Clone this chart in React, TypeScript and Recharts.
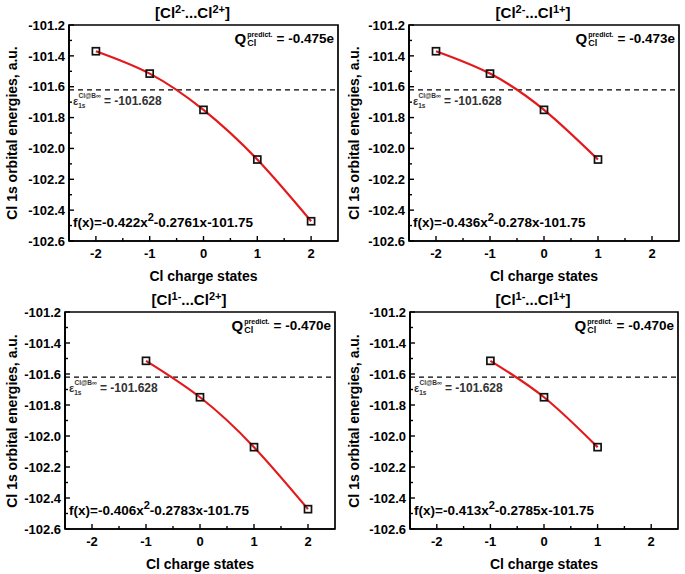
import React from 'react';
import { LineChart, Line, XAxis, YAxis, ReferenceLine, ReferenceArea } from 'recharts';

// ---------- data ----------
const chargeAll = [-2, -1, 0, 1, 2];
const energyAll = [-101.37, -101.515, -101.75, -102.072, -102.472];

const panelRanges: [number, number][] = [
  [-2, 2],
  [-2, 1],
  [-1, 2],
  [-1, 1],
];
const titleLeft = ['2-', '2-', '1-', '1-'];
const titleRight = ['2+', '1+', '2+', '1+'];
const qValues = ['-0.475', '-0.473', '-0.470', '-0.470'];
const fitA = ['-0.422', '-0.436', '-0.406', '-0.413'];
const fitB = ['-0.2761', '-0.278', '-0.2783', '-0.2785'];
const fitC = '-101.75';
const refEnergy = -101.62;
const refLabel = '-101.628';

const xTicks = [-2, -1.5, -1, -0.5, 0, 0.5, 1, 1.5, 2];
const yTicks = [
  -102.6, -102.5, -102.4, -102.3, -102.2, -102.1, -102.0, -101.9, -101.8, -101.7, -101.6, -101.5, -101.4, -101.3, -101.2,
];
const xDomain: [number, number] = [-2.5, 2.5];
const yDomain: [number, number] = [-102.6, -101.2];

// ---------- layout ----------
const FONT = '"Liberation Sans", Arial, Helvetica, sans-serif';
const layouts = [
  { left: 0, top: 0, width: 342, height: 288, box: { l: 69, t: 25, r: 338, b: 241 } },
  { left: 342, top: 0, width: 343, height: 288, box: { l: 67, t: 25, r: 337, b: 241 } },
  { left: 0, top: 288, width: 342, height: 286, box: { l: 65, t: 24, r: 335, b: 241 } },
  { left: 342, top: 288, width: 343, height: 286, box: { l: 68, t: 24, r: 336, b: 241 } },
];
const X_AXIS_H = 30;
const Y_MARGIN = 4;
const X_MARGIN = 8;

const YTick = (props: any) => {
  const { x, y, payload } = props;
  const v = payload.value;
  const major = Math.round(v * 10) % 2 === 0;
  const ax = x + Y_MARGIN;
  return (
    <g>
      <line x1={ax} x2={ax + (major ? 5 : 3)} y1={y} y2={y} stroke="#000" strokeWidth={1.4} />
      {major && (
        <text x={x} y={y} dy="0.36em" textAnchor="end" fontFamily={FONT} fontWeight="bold" fontSize={13} fill="#000">
          {v.toFixed(1)}
        </text>
      )}
    </g>
  );
};

const XTick = (props: any) => {
  const { x, y, payload } = props;
  const v = payload.value;
  const major = Number.isInteger(v);
  const ay = y - X_MARGIN;
  return (
    <g>
      <line x1={x} x2={x} y1={ay} y2={ay - (major ? 5 : 3)} stroke="#000" strokeWidth={1.4} />
      {major && (
        <text x={x} y={y} dy="0.71em" textAnchor="middle" fontFamily={FONT} fontWeight="bold" fontSize={13} fill="#000">
          {v}
        </text>
      )}
    </g>
  );
};

const SquareDot = (props: any) => {
  const { cx, cy, index } = props;
  if (cx == null || cy == null) return <g key={index} />;
  return <rect key={index} x={cx - 3.5} y={cy - 3.5} width={7} height={7} fill="none" stroke="#111" strokeWidth={1.7} />;
};

const EpsLabel = (props: any) => {
  const vb = props.viewBox || {};
  const x = (vb.x || 0) + 4;
  const y = (vb.y || 0) + 15;
  return (
    <text x={x} y={y} fontFamily={FONT} fontWeight="bold" fill="#333" fontSize={12}>
      <tspan fontSize={11}>ε</tspan>
      <tspan dy={3} fontSize={6.5}>1s</tspan>
      <tspan dx={-7} dy={-10} fontSize={6.5}>Cl@B∞</tspan>
      <tspan dy={7} fontSize={12}>{' = ' + refLabel}</tspan>
    </text>
  );
};

function Panel({ idx }: { idx: number }) {
  const L = layouts[idx];
  const { box } = L;
  const [lo, hi] = panelRanges[idx];
  const data = chargeAll
    .map((x, i) => ({ x, y: energyAll[i] }))
    .filter((d) => d.x >= lo && d.x <= hi);
  const boxCx = (box.l + box.r) / 2;
  const boxCy = (box.t + box.b) / 2;
  return (
    <div style={{ position: 'absolute', left: L.left, top: L.top, width: L.width, height: L.height, fontFamily: FONT }}>
      <LineChart
        width={L.width}
        height={L.height}
        data={data}
        margin={{ top: box.t, right: L.width - box.r, left: 0, bottom: L.height - box.b - X_AXIS_H }}
      >
        <XAxis
          type="number"
          dataKey="x"
          domain={xDomain}
          ticks={xTicks}
          interval={0}
          allowDataOverflow
          height={X_AXIS_H}
          tickSize={0}
          tickMargin={X_MARGIN}
          tickLine={false}
          axisLine={{ stroke: '#000', strokeWidth: 1.7 }}
          tick={<XTick />}
        />
        <YAxis
          type="number"
          domain={yDomain}
          ticks={yTicks}
          interval={0}
          allowDataOverflow
          width={box.l}
          tickSize={0}
          tickMargin={Y_MARGIN}
          tickLine={false}
          axisLine={{ stroke: '#000', strokeWidth: 1.7 }}
          tick={<YTick />}
        />
        <ReferenceArea
          x1={xDomain[0]}
          x2={xDomain[1]}
          y1={yDomain[0]}
          y2={yDomain[1]}
          fill="none"
          fillOpacity={0}
          stroke="#000"
          strokeWidth={1.7}
          ifOverflow="visible"
        />
        <ReferenceLine y={refEnergy} stroke="#000" strokeWidth={1.3} strokeDasharray="5 4" label={<EpsLabel />} />
        <Line
          type="natural"
          dataKey="y"
          stroke="#e3191c"
          strokeWidth={2.2}
          dot={SquareDot}
          activeDot={false}
          isAnimationActive={false}
        />
      </LineChart>

      {/* title */}
      <div
        style={{
          position: 'absolute',
          left: boxCx - 11,
          top: box.t - 12,
          transform: 'translate(-50%, -50%)',
          fontSize: 15,
          fontWeight: 'bold',
          whiteSpace: 'nowrap',
          lineHeight: '18px',
        }}
      >
        [Cl<sup style={{ fontSize: 11, verticalAlign: 5, lineHeight: 0 }}>{titleLeft[idx]}</sup>...Cl
        <sup style={{ fontSize: 11, verticalAlign: 5, lineHeight: 0 }}>{titleRight[idx]}</sup>]
      </div>

      {/* x label */}
      <div
        style={{
          position: 'absolute',
          left: boxCx,
          top: box.b + 35,
          transform: 'translate(-50%, -50%)',
          fontSize: 14,
          fontWeight: 'bold',
          whiteSpace: 'nowrap',
        }}
      >
        Cl charge states
      </div>

      {/* y label */}
      <div
        style={{
          position: 'absolute',
          left: 12,
          top: boxCy,
          transform: 'translate(-50%, -50%) rotate(-90deg)',
          fontSize: 14,
          fontWeight: 'bold',
          whiteSpace: 'nowrap',
        }}
      >
        Cl 1s orbital energies, a.u.
      </div>

      {/* Q predicted */}
      <div
        style={{
          position: 'absolute',
          right: L.width - box.r + 4,
          top: box.t + 5,
          display: 'flex',
          alignItems: 'center',
          fontWeight: 'bold',
          whiteSpace: 'nowrap',
        }}
      >
        <span style={{ fontSize: 15 }}>Q</span>
        <span style={{ display: 'inline-flex', flexDirection: 'column', fontSize: 7, lineHeight: '8px', marginLeft: 1 }}>
          <span>predict.</span>
          <span style={{ fontSize: 9 }}>Cl</span>
        </span>
        <span style={{ fontSize: 13.5, marginLeft: 4 }}>= {qValues[idx]}e</span>
      </div>

      {/* fit formula */}
      <div
        style={{
          position: 'absolute',
          left: box.l + 4,
          top: box.b - 27,
          fontSize: 13.5,
          fontWeight: 'bold',
          whiteSpace: 'nowrap',
          lineHeight: '18px',
        }}
      >
        f(x)={fitA[idx]}x<sup style={{ fontSize: 11, verticalAlign: 6, lineHeight: 0 }}>2</sup>
        {fitB[idx]}x{fitC}
      </div>
    </div>
  );
}

export default function App() {
  return (
    <div style={{ position: 'absolute', left: 0, top: 0, width: 685, height: 574, background: '#fff' }}>
      {layouts.map((_, i) => (
        <Panel key={i} idx={i} />
      ))}
    </div>
  );
}
